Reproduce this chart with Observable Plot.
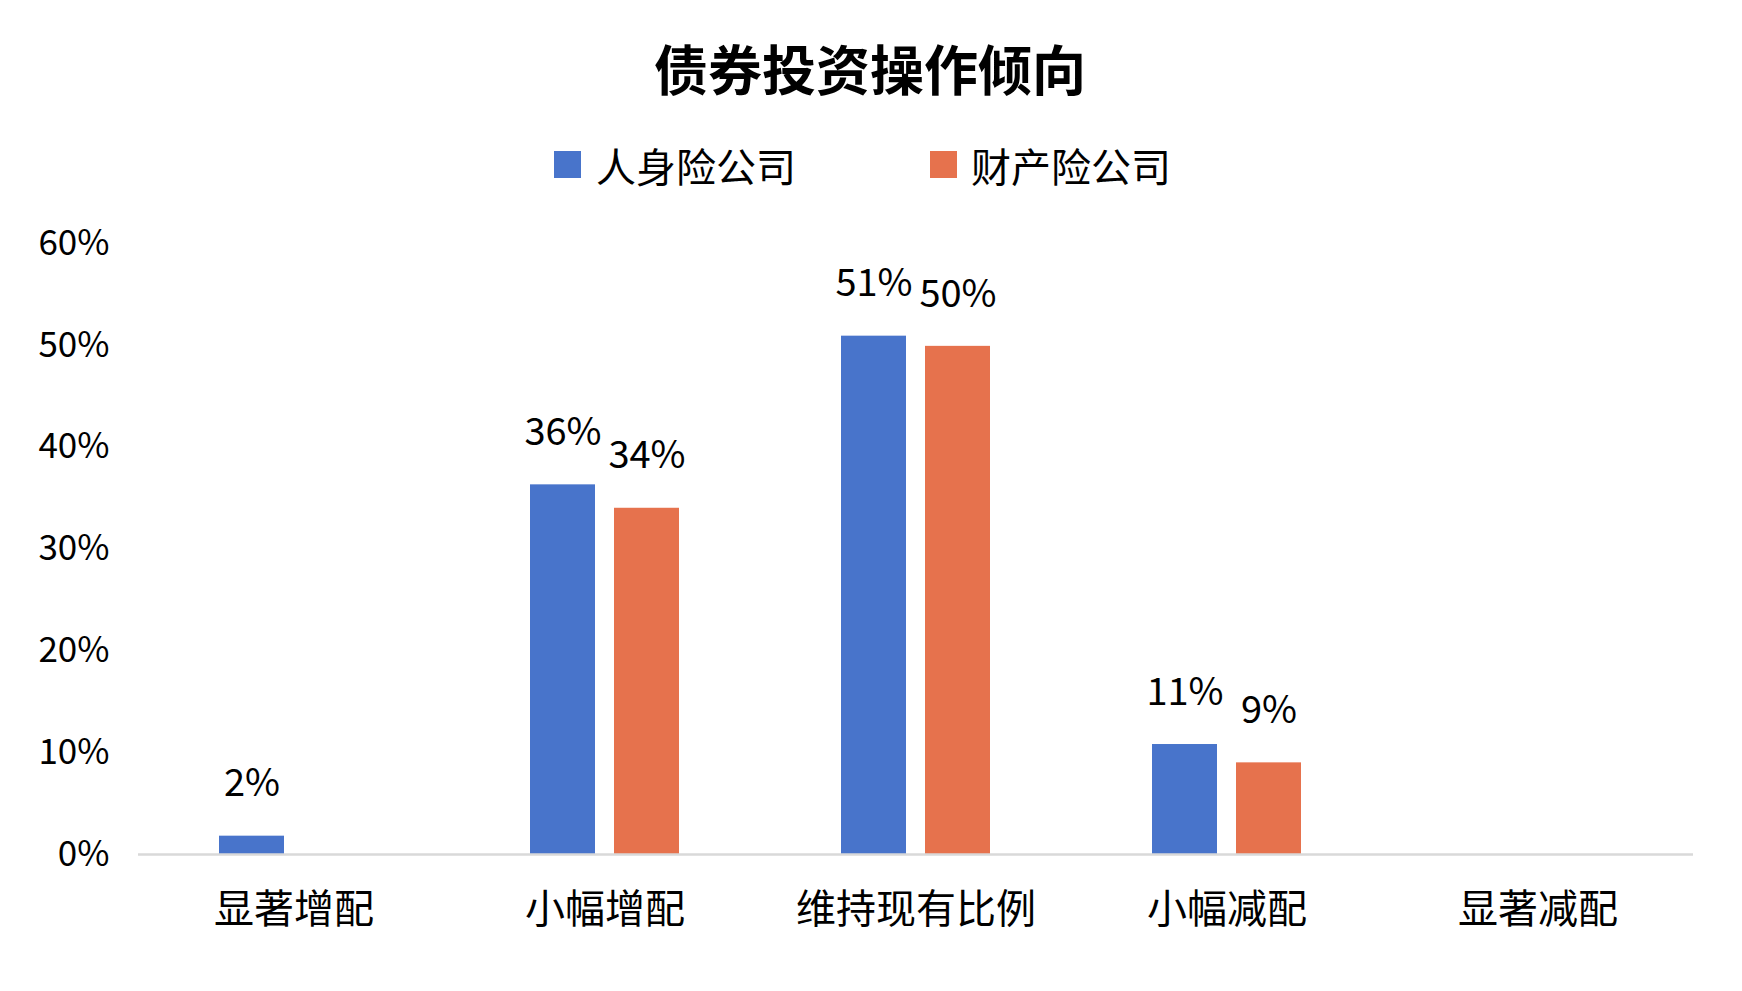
<!DOCTYPE html>
<html>
<head>
<meta charset="utf-8">
<script src="https://cdn.jsdelivr.net/npm/d3@7"></script>
<script src="https://cdn.jsdelivr.net/npm/@observablehq/plot@0.6"></script>
<style>
  html, body { margin: 0; padding: 0; background: #fff; }
  body { width: 1742px; height: 991px; overflow: hidden; font-family: "Noto Sans CJK SC", "Noto Sans", sans-serif; }
  #title { position: relative; height: 120px; }
  #title span { position: absolute; left: 0; width: 1740px; top: 37px; line-height: 62px; text-align: center; font-size: 54px; font-weight: 700; color: #000; }
  #legend { position: relative; height: 80px; }
  .sw { position: absolute; width: 27px; height: 27px; top: 31px; }
  .lt { position: absolute; top: 25px; line-height: 40px; font-size: 40px; color: #000; white-space: nowrap; }
  #chart svg [aria-label^="fx-axis"] { font-size: 40px; }
  #chart svg [aria-label^="y-axis"] { font-size: 35px; }
</style>
</head>
<body>
<div id="title"><span>债券投资操作倾向</span></div>
<div id="legend"></div>
<div id="chart"></div>
<script>
const categories = ["显著增配", "小幅增配", "维持现有比例", "小幅减配", "显著减配"];
const seriesNames = ["人身险公司", "财产险公司"];
const lifeValues = [0.018, 0.363, 0.509, 0.108, 0];
const propertyValues = [0, 0.34, 0.499, 0.09, 0];
const yTicks = [0, 0.1, 0.2, 0.3, 0.4, 0.5, 0.6];
const colors = ["#4874CB", "#E6724D"];

const data = [];
categories.forEach((c, i) => {
  data.push({category: c, series: seriesNames[0], value: lifeValues[i]});
  data.push({category: c, series: seriesNames[1], value: propertyValues[i]});
});
const shown = data.filter(d => d.value > 0);
const fmt = d3.format(".0%");

// legend
const legend = document.getElementById("legend");
const legendPos = [[554, 596], [930, 971]];
seriesNames.forEach((s, i) => {
  const sw = document.createElement("div");
  sw.className = "sw";
  sw.style.left = legendPos[i][0] + "px";
  sw.style.background = colors[i];
  legend.appendChild(sw);
  const t = document.createElement("div");
  t.className = "lt";
  t.style.left = legendPos[i][1] + "px";
  t.textContent = s;
  legend.appendChild(t);
});

const chart = Plot.plot({
  width: 1742,
  height: 780,
  marginTop: 43,
  marginBottom: 126,
  marginLeft: 136,
  marginRight: 47,
  style: {fontFamily: "'Noto Sans CJK SC', 'Noto Sans', sans-serif", fontSize: "35px", color: "#000", background: "#fff", overflow: "visible"},
  fx: {domain: categories, padding: 0, label: null, axis: "bottom", tickSize: 0, tickPadding: 40},
  x: {domain: seriesNames, axis: null, paddingInner: 0.2235, paddingOuter: 0.946},
  y: {domain: [0, 0.6], ticks: yTicks, tickFormat: fmt, tickSize: 0, tickPadding: 29, label: null},
  color: {domain: seriesNames, range: colors},
  marks: [
    Plot.barY(data, {fx: "category", x: "series", y: "value", fill: "series"}),
    Plot.ruleY([0], {stroke: "#d9d9d9", strokeWidth: 2.5}),
    Plot.text(shown, {fx: "category", x: "series", y: "value", text: d => fmt(d.value), dy: -52, fontSize: 38, fill: "#000"})
  ]
});
document.getElementById("chart").appendChild(chart);
</script>
</body>
</html>
